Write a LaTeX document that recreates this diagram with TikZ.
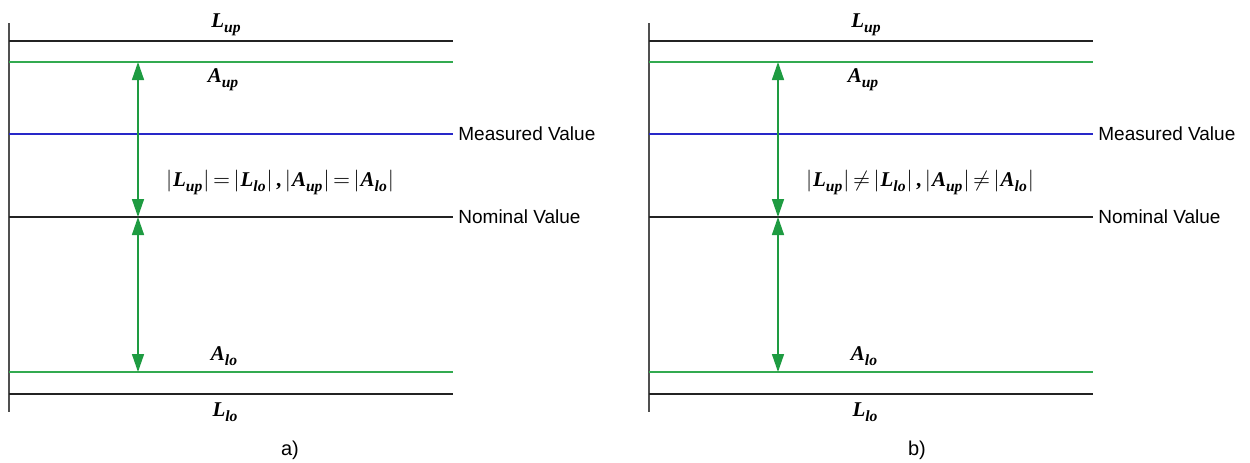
\documentclass[tikz,border=0pt]{standalone}
\usepackage{fontspec}
\setmainfont{Liberation Serif}
\newfontfamily\lsans{Liberation Sans}
\usetikzlibrary{arrows.meta}
\definecolor{lgreen}{RGB}{50,170,80}
\definecolor{agreen}{RGB}{30,155,65}
\definecolor{lblue}{RGB}{40,40,200}
\definecolor{lblack}{RGB}{35,35,35}
\definecolor{vgrey}{RGB}{80,80,80}
\newcommand{\bi}[2]{{\fontsize{10.5}{12}\selectfont\bfseries\itshape #1}\raisebox{-0.25em}{\fontsize{7.8}{9}\selectfont\bfseries\itshape #2}}
\newcommand{\av}[1]{$\bigl|$\kern0.5pt#1\kern0.5pt$\bigr|$}
\begin{document}
\begin{tikzpicture}[x=0.5pt,y=-0.5pt,
  blackline/.style={draw=lblack,line width=0.55pt},
  greenline/.style={draw=lgreen,line width=0.55pt},
  blueline/.style={draw=lblue,line width=0.55pt},
  axisline/.style={draw=vgrey,line width=0.6pt},
  dimarrow/.style={draw=agreen,fill=agreen,line width=0.75pt,{Triangle[length=9pt,width=6pt]}-{Triangle[length=9pt,width=6pt]}},
  lim/.style={inner sep=0pt},
  side/.style={inner sep=0pt,anchor=west,font=\lsans\fontsize{9.5}{11}\selectfont},
  capt/.style={inner sep=0pt,font=\lsans\fontsize{10}{12}\selectfont}]
\useasboundingbox (0,0) rectangle (1250,462);
\foreach \ox/\tg/\rel/\cp/\cx in {0/a/=/a)/290, 640/b/\neq/b)/917}{
  \begin{scope}[xshift=\ox*0.5pt]
    \coordinate (vt\tg) at (9,23);
    \coordinate (vb\tg) at (9,412);
    \draw[axisline] (vt\tg) -- (vb\tg);
    \coordinate (lu0\tg) at (9,41);   \coordinate (lu1\tg) at (453,41);
    \coordinate (au0\tg) at (9,62);   \coordinate (au1\tg) at (453,62);
    \coordinate (mv0\tg) at (9,134);  \coordinate (mv1\tg) at (453,134);
    \coordinate (nv0\tg) at (9,217);  \coordinate (nv1\tg) at (453,217);
    \coordinate (al0\tg) at (9,372);  \coordinate (al1\tg) at (453,372);
    \coordinate (ll0\tg) at (9,394);  \coordinate (ll1\tg) at (453,394);
    \draw[blackline] (lu0\tg) -- (lu1\tg);
    \draw[greenline] (au0\tg) -- (au1\tg);
    \draw[blueline] (mv0\tg) -- (mv1\tg);
    \draw[blackline] (nv0\tg) -- (nv1\tg);
    \draw[greenline] (al0\tg) -- (al1\tg);
    \draw[blackline] (ll0\tg) -- (ll1\tg);
    \coordinate (at\tg) at (138,62);
    \coordinate (am\tg) at (138,217);
    \coordinate (ab\tg) at (138,372);
    \draw[dimarrow] (at\tg) -- (am\tg);
    \draw[dimarrow] (am\tg) -- (ab\tg);
    \node[side] (mvl\tg) at (458,134) {Measured Value};
    \node[side] (nvl\tg) at (458,217) {Nominal Value};
    \node[lim] (lup\tg) at (226,25) {\bi{L}{up}};
    \node[lim] (aup\tg) at (223,80) {\bi{A}{up}};
    \node[lim] (alo\tg) at (224,356) {\bi{A}{lo}};
    \node[lim] (llo\tg) at (225,412) {\bi{L}{lo}};
    \node[lim] (eq\tg) at (280,182) {\fontsize{10.5}{12}\selectfont\av{\bi{L}{up}}\,$\rel$\,\av{\bi{L}{lo}}\,\textbf{,}\,\av{\bi{A}{up}}\,$\rel$\,\av{\bi{A}{lo}}};
  \end{scope}
  \node[capt] (cap\tg) at (\cx,450) {\cp};
}
\end{tikzpicture}
\end{document}
